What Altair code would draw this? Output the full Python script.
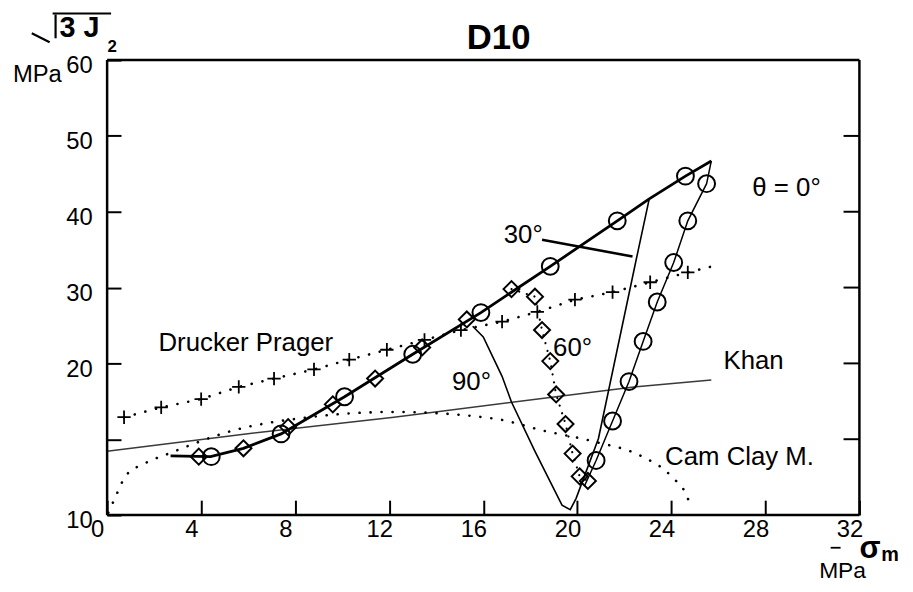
import altair as alt
import pandas as pd

FONT = "Liberation Sans"

# ---------------- axes ----------------
x_ticks = [0, 4, 8, 12, 16, 20, 24, 28, 32]
y_ticks = [0, 10, 20, 30, 40, 50, 60]
y_tick_labels = ["10", "", "20", "30", "40", "50", "60"]
right_ticks = [10, 20, 30, 40, 50]

# ---------------- theta = 0 deg (circles) ----------------
load_x = [2.7, 4.4, 5.8, 7.4, 10.1, 13.0, 15.9, 18.85, 21.7, 23.06, 24.6, 25.7]
load_y = [7.8, 7.7, 8.8, 10.7, 15.6, 21.2, 26.7, 32.8, 38.8, 41.7, 44.7, 46.7]
unload_x = [25.7, 25.5, 24.7, 24.1, 23.4, 22.8, 22.2, 21.5, 20.8, 20.3]
unload_y = [46.7, 43.7, 38.8, 33.3, 28.1, 22.9, 17.6, 12.4, 7.2, 3.8]
circle_x = [4.43, 7.4, 10.1, 13.0, 15.9, 18.85, 21.7, 24.6,
            25.5, 24.7, 24.1, 23.4, 22.8, 22.2, 21.5, 20.8]
circle_y = [7.7, 10.7, 15.6, 21.2, 26.7, 32.8, 38.8, 44.7,
            43.7, 38.8, 33.3, 28.1, 22.9, 17.6, 12.4, 7.2]

# ---------------- 60 deg (diamonds) ----------------
diamond_x = [3.9, 5.8, 7.7, 9.6, 11.4, 13.4, 15.3, 17.2,
             18.2, 18.5, 18.85, 19.1, 19.5, 19.8, 20.1, 20.45]
diamond_y = [7.7, 8.8, 11.6, 14.6, 18.0, 22.1, 25.8, 29.8,
             28.8, 24.4, 20.3, 15.9, 12.0, 8.1, 5.1, 4.5]
d60_x = [17.2, 18.2, 18.5, 18.85, 19.1, 19.5, 19.8, 20.1, 20.45]
d60_y = [29.8, 28.8, 24.4, 20.3, 15.9, 12.0, 8.1, 5.1, 4.5]

# ---------------- 90 deg path ----------------
p90_x = [15.55, 16.0, 16.8, 17.2, 18.2, 19.35, 19.7, 19.95, 20.9, 22.5, 23.06]
p90_y = [24.9, 23.5, 18.3, 14.9, 8.4, 1.3, 0.7, 2.2, 10.1, 33.6, 41.7]

# ---------------- 30 deg segment ----------------
p30_x = [18.5, 22.35]
p30_y = [36.3, 34.1]

# ---------------- Drucker Prager ----------------
dp_x = [0.72, 2.3, 4.0, 5.6, 7.1, 8.8, 10.3, 11.9, 13.5, 15.05, 16.8, 18.3, 19.9, 21.5, 23.1, 24.7]
dp_y = [12.9, 14.2, 15.3, 16.9, 18.0, 19.2, 20.5, 21.8, 23.1, 24.4, 25.5, 26.8, 28.4, 29.4, 30.7, 32.0]
dp_line_x = dp_x + [26.0]
dp_line_y = dp_y + [33.0]

# ---------------- Khan ----------------
khan_x = [0.0, 5.9, 12.2, 22.4, 25.7]
khan_y = [8.4, 10.7, 12.9, 16.9, 17.8]

# ---------------- Cam Clay M. ----------------
cc_x = [0.05, 0.3, 0.8, 1.6, 2.7, 5.3, 8.6, 12.2, 16.5, 18.6, 20.7, 22.7, 24.0, 24.7, 24.85]
cc_y = [0.3, 2.0, 5.2, 6.8, 8.2, 11.1, 12.9, 13.6, 12.7, 11.1, 9.7, 7.8, 5.1, 2.2, 0.8]

# ---------------- in-plot labels ----------------
lab_text = ["30°", "60°", "90°", "Drucker Prager", "Cam Clay M.", "Khan", "θ = 0°"]
lab_x = [17.7, 19.8, 15.5, 5.9, 26.9, 27.5, 28.9]
lab_y = [36.9, 22.0, 17.6, 22.7, 7.7, 20.3, 43.1]

W, H = 759, 459


def path_df(xs, ys):
    return pd.DataFrame({"x": xs, "y": ys, "i": list(range(len(xs)))})


label_expr = " : ".join(
    f"datum.value == {v} ? '{t}'" for v, t in zip(y_ticks, y_tick_labels)
) + " : ''"

xscale = alt.Scale(domain=[0, 32], nice=False, zero=False)
yscale = alt.Scale(domain=[0, 60], nice=False, zero=False)

x_axis = alt.Axis(values=x_ticks, title=None, grid=False, domain=False,
                  offset=-15, tickSize=15, tickWidth=2, tickColor="black",
                  labelFont=FONT, labelFontSize=24, labelColor="black",
                  labelPadding=3, labelOffset=-10, labelFlush=False, labelOverlap=False)
y_axis = alt.Axis(values=y_ticks, title=None, grid=False, domain=False,
                  offset=-14, tickSize=14, tickWidth=2, tickColor="black",
                  labelFont=FONT, labelFontSize=24, labelColor="black",
                  labelPadding=15, labelOffset=6, labelExpr=label_expr,
                  labelFlush=False, labelOverlap=False)


def enc(**kw):
    return dict(
        x=alt.X("x:Q", scale=xscale, axis=x_axis),
        y=alt.Y("y:Q", scale=yscale, axis=y_axis),
        **kw,
    )


def line(xs, ys, **mk):
    mk.setdefault("color", "black")
    return alt.Chart(path_df(xs, ys)).mark_line(**mk).encode(
        **enc(order=alt.Order("i:Q"))
    )


dotted = dict(strokeDash=[0.1, 11], strokeCap="round", strokeWidth=2.6)

khan = line(khan_x, khan_y, strokeWidth=1.5, color="#3a3a3a")
camclay = line(cc_x, cc_y, interpolate="monotone", **dotted)
dp_line = line(dp_line_x, dp_line_y, **dotted)
d60_line = line(d60_x, d60_y, strokeDash=[0.1, 8], strokeCap="round", strokeWidth=2.2)
main_line = line(load_x, load_y, strokeWidth=2.8)
unload_line = line(unload_x, unload_y, strokeWidth=1.5)
p90_line = line(p90_x, p90_y, strokeWidth=1.6)
p30_line = line(p30_x, p30_y, strokeWidth=2.6)

plus = alt.Chart(pd.DataFrame({"x": dp_x, "y": dp_y})).mark_point(
    shape="M-1,0H1M0,-1V1", size=180, strokeWidth=1.8, color="black",
    filled=False, opacity=1
).encode(**enc())
circles = alt.Chart(pd.DataFrame({"x": circle_x, "y": circle_y})).mark_point(
    shape="circle", size=290, strokeWidth=2, color="black", filled=False, opacity=1
).encode(**enc())
diamonds = alt.Chart(pd.DataFrame({"x": diamond_x, "y": diamond_y})).mark_point(
    shape="diamond", size=260, strokeWidth=2, color="black", filled=False, opacity=1
).encode(**enc())

labels = alt.Chart(pd.DataFrame({"x": lab_x, "y": lab_y, "t": lab_text})).mark_text(
    font=FONT, fontSize=26, color="black", align="center", baseline="middle"
).encode(**enc(text="t:N"))

right_tick_rules = alt.Chart(pd.DataFrame({"y": right_ticks})).mark_rule(
    color="black", strokeWidth=2
).encode(x=alt.value(W - 16), x2=alt.value(W), y=alt.Y("y:Q", scale=yscale, axis=y_axis))


# ---------------- titles / axis titles (annotations) ----------------
def txt(t, px, py, size, bold=False, align="left", baseline="alphabetic"):
    return alt.Chart(pd.DataFrame({"t": [t]})).mark_text(
        font=FONT, fontSize=size, fontWeight="bold" if bold else "normal",
        color="black", align=align, baseline=baseline
    ).encode(text="t:N", x=alt.value(px), y=alt.value(py))


def seg(x1, y1, x2, y2, w=2):
    return alt.Chart(pd.DataFrame({"a": [0]})).mark_rule(color="black", strokeWidth=w).encode(
        x=alt.value(x1), y=alt.value(y1), x2=alt.value(x2), y2=alt.value(y2)
    )


# plot frame (box around the view), drawn as four rules
frame_top = seg(0, 0, W, 0, 2.5)
frame_bottom = seg(0, H, W, H, 2.5)
frame_left = seg(0, 0, 0, H, 2.5)
frame_right = seg(W, 0, W, H, 2.5)

title = txt("D10", 395, -11, 35, bold=True, align="center")
ylab_root = seg(-76, -27, -58, -18, 2.2)
ylab_bar = seg(-52, -46, -52, -22, 2.2)
ylab_over = seg(-55, -47, 4, -47, 2.2)
ylab_txt = txt("3 J", -48, -23, 29, bold=True)
ylab_sub = txt("2", 5, -8, 17, bold=True, align="center")
ylab_mpa = txt("MPa", -95, 22, 24)
xlab_dash = seg(730, 492, 740, 492, 1.8)
xlab_sigma = txt("σ", 759, 502, 31, bold=True)
xlab_m = txt("m", 781, 505, 20, bold=True)
xlab_mpa = txt("MPa", 742, 523, 23, align="center")

chart = alt.layer(
    khan, camclay, dp_line, d60_line, unload_line, p90_line, main_line, p30_line,
    plus, circles, diamonds, labels, right_tick_rules,
    frame_top, frame_bottom, frame_left, frame_right,
    title, ylab_root, ylab_bar, ylab_over, ylab_txt, ylab_sub, ylab_mpa,
    xlab_dash, xlab_sigma, xlab_m, xlab_mpa,
).properties(
    width=W, height=H,
    autosize=alt.AutoSizeParams(type="none"),
    padding={"left": 100, "top": 50, "right": 46, "bottom": 66},
).configure(background="white").configure_view(stroke=None)

chart.save("out.html", embed_options={"renderer": "svg", "actions": False})
